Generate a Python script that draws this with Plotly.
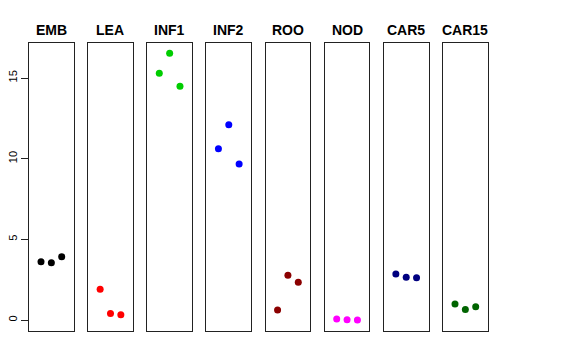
import plotly.graph_objects as go

tissues = ["EMB", "LEA", "INF1", "INF2", "ROO", "NOD", "CAR5", "CAR15"]
colors = ["#000000", "#FF0000", "#00CD00", "#0000FF", "#8B0000", "#FF00FF", "#000080", "#006400"]
rep_x = [1, 2, 3]
EMB = [3.61, 3.55, 3.92]
LEA = [1.90, 0.41, 0.33]
INF1 = [15.29, 16.53, 14.49]
INF2 = [10.62, 12.11, 9.67]
ROO = [0.62, 2.77, 2.34]
NOD = [0.06, 0.02, 0.00]
CAR5 = [2.85, 2.65, 2.62]
CAR15 = [0.99, 0.66, 0.82]
values = [EMB, LEA, INF1, INF2, ROO, NOD, CAR5, CAR15]
y_ticks = [0, 5, 10, 15]

W, H = 576, 360
L, T = 29, 43
plot_w, plot_h = 488 - 29, 331 - 43
R = W - L - plot_w
B = H - T - plot_h
panel_w = 44.7
step = (443 - 29) / 7

fig = go.Figure()
layout = dict(
    width=W, height=H, margin=dict(l=L, r=R, t=T, b=B, pad=0, autoexpand=False),
    paper_bgcolor="white", plot_bgcolor="white", showlegend=False,
    font=dict(family="Liberation Sans, Arial, sans-serif", color="black"),
)
annotations = []
for i, (name, col, vals) in enumerate(zip(tissues, colors, values)):
    x0 = (i * step) / plot_w
    x1 = (i * step + panel_w) / plot_w
    xa = "xaxis" if i == 0 else f"xaxis{i+1}"
    ya = "yaxis" if i == 0 else f"yaxis{i+1}"
    xr = "x" if i == 0 else f"x{i+1}"
    yr = "y" if i == 0 else f"y{i+1}"
    fig.add_trace(go.Scatter(x=rep_x, y=vals, mode="markers", xaxis=xr, yaxis=yr,
                             marker=dict(color=col, size=7, line=dict(width=0))))
    layout[xa] = dict(domain=[x0, x1], range=[-0.16, 4.16], showticklabels=False,
                      ticks="", showgrid=False, zeroline=False, showline=True,
                      mirror=True, linecolor="#222", linewidth=1, fixedrange=True,
                      automargin=False)
    ydict = dict(domain=[0, 1], range=[-0.68, 17.17], showgrid=False, zeroline=False,
                 showline=True, mirror=True, linecolor="#222", linewidth=1,
                 anchor=xr, fixedrange=True, automargin=False)
    if i == 0:
        ydict.update(tickvals=y_ticks, ticktext=[str(t) for t in y_ticks], ticks="outside",
                     ticklen=7, tickwidth=1, tickcolor="#222", tickangle=-90,
                     tickfont=dict(size=11, color="black"))
    else:
        ydict.update(showticklabels=False, ticks="")
    layout[ya] = ydict
    annotations.append(dict(text=f"<b>{name}</b>", xref="paper", yref="paper",
                            x=(x0 + x1) / 2, y=1, xanchor="center", yanchor="middle",
                            yshift=13.5, showarrow=False, font=dict(size=14, color="black")))
layout["annotations"] = annotations
fig.update_layout(**layout)
fig.write_html(
    "out.html",
    config={"displayModeBar": False, "staticPlot": True},
    post_script="document.body.style.margin='0px';document.body.style.overflow='hidden';",
)
